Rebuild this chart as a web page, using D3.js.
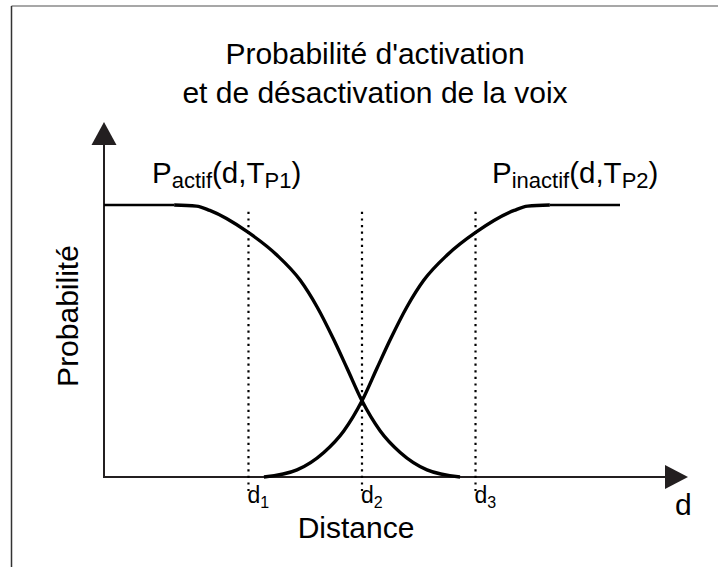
<!DOCTYPE html>
<html>
<head>
<meta charset="utf-8">
<script src="https://cdn.jsdelivr.net/npm/d3@7"></script>
<style>
  body { margin: 0; background: #fff; }
  text { font-family: "Liberation Sans", Arial, sans-serif; fill: #000; }
</style>
</head>
<body>
<script>

// values (distance in arbitrary units 0..10, probability 0..1)
var actifDist   = [1.36, 1.79, 2.05, 2.79, 3.35, 3.80, 4.13, 4.44, 4.71, 5.0, 5.35, 5.74, 6.26, 6.9];
var actifProb   = [1.0, 0.996, 0.98, 0.90, 0.816, 0.724, 0.625, 0.51, 0.40, 0.28, 0.17, 0.09, 0.026, 0];
var actifFlat   = [0, 1.36];

var inactifDist = [3.1, 3.74, 4.26, 4.65, 5.0, 5.29, 5.56, 5.87, 6.2, 6.65, 7.21, 7.95, 8.21, 8.64];
var inactifProb = [0, 0.026, 0.09, 0.17, 0.28, 0.40, 0.51, 0.625, 0.724, 0.816, 0.90, 0.98, 0.996, 1.0];
var inactifFlat = [8.64, 10];

var markDist  = [2.8, 5, 7.2];
var markNames = ["1", "2", "3"];

var titleLines = ["Probabilité d'activation", "et de désactivation de la voix"];

var width = 718,
    height = 567;

var svg = d3.select("body").append("svg")
    .attr("width", width)
    .attr("height", height);

var x = d3.scaleLinear().domain([0, 10]).range([104, 620]);
var y = d3.scaleLinear().domain([0, 1]).range([477, 205]);

// frame
svg.append("line")
    .attr("x1", 11.5).attr("x2", width).attr("y1", 6).attr("y2", 6)
    .attr("stroke", "#8a8a8a").attr("stroke-width", 1.5);
svg.append("line")
    .attr("x1", 11.5).attr("x2", 11.5).attr("y1", 6).attr("y2", height)
    .attr("stroke", "#333").attr("stroke-width", 1.5);

// title
svg.selectAll(".title")
    .data(titleLines)
  .enter().append("text")
    .attr("class", "title")
    .attr("x", 375)
    .attr("y", function(d, i) { return 64 + i * 39; })
    .attr("text-anchor", "middle")
    .style("font-size", "30px")
    .text(function(d) { return d; });

// axes with arrows
var axisColor = "#231f20";
var x0 = x(0), y0 = y(0), xEnd = x.range()[1] + 68, yTop = y(1) - 83;

svg.append("line")
    .attr("x1", x0).attr("x2", xEnd - 20).attr("y1", y0).attr("y2", y0)
    .attr("stroke", axisColor).attr("stroke-width", 2);
svg.append("path")
    .attr("d", "M" + xEnd + "," + y0 + "L" + (xEnd - 23) + "," + (y0 - 12) + "L" + (xEnd - 23) + "," + (y0 + 12) + "Z")
    .attr("fill", axisColor);

svg.append("line")
    .attr("x1", x0).attr("x2", x0).attr("y1", y0 + 1).attr("y2", yTop + 20)
    .attr("stroke", axisColor).attr("stroke-width", 2);
svg.append("path")
    .attr("d", "M" + x0 + "," + yTop + "L" + (x0 - 12.5) + "," + (yTop + 23) + "L" + (x0 + 12.5) + "," + (yTop + 23) + "Z")
    .attr("fill", axisColor);

// dotted markers d1, d2, d3
svg.selectAll(".mark")
    .data(markDist)
  .enter().append("line")
    .attr("class", "mark")
    .attr("x1", function(d) { return x(d); })
    .attr("x2", function(d) { return x(d); })
    .attr("y1", y(0.975))
    .attr("y2", y(0) + 14)
    .attr("stroke", "#000")
    .attr("stroke-width", 2.2)
    .attr("stroke-dasharray", "2.2,4.4");

var dLab = svg.selectAll(".dlab")
    .data(markDist)
  .enter().append("text")
    .attr("class", "dlab")
    .attr("x", function(d) { return x(d) - 1; })
    .attr("y", y(0) + 26);
dLab.append("tspan")
    .style("font-size", "23px")
    .text("d");
dLab.append("tspan")
    .attr("dy", 5)
    .style("font-size", "16px")
    .text(function(d, i) { return markNames[i]; });

// curves
var line = d3.line()
    .x(function(d) { return x(d[0]); })
    .y(function(d) { return y(d[1]); })
    .curve(d3.curveMonotoneX);

svg.append("path")
    .datum(actifFlat.map(function(d) { return [d, 1]; }))
    .attr("fill", "none").attr("stroke", "#000").attr("stroke-width", 2.4)
    .attr("d", line);
svg.append("path")
    .datum(inactifFlat.map(function(d) { return [d, 1]; }))
    .attr("fill", "none").attr("stroke", "#000").attr("stroke-width", 2.4)
    .attr("d", line);

svg.append("path")
    .datum(d3.zip(actifDist, actifProb))
    .attr("fill", "none").attr("stroke", "#000").attr("stroke-width", 3.4)
    .attr("d", line);
svg.append("path")
    .datum(d3.zip(inactifDist, inactifProb))
    .attr("fill", "none").attr("stroke", "#000").attr("stroke-width", 3.4)
    .attr("d", line);

// curve labels
function curveLabel(px, sub, tsub) {
  var t = svg.append("text").attr("x", px).attr("y", 183);
  t.append("tspan").style("font-size", "29.5px").text("P");
  t.append("tspan").attr("dy", 5).style("font-size", "22px").text(sub);
  t.append("tspan").attr("dy", -5).style("font-size", "29.5px").text("(d,T");
  t.append("tspan").attr("dy", 5).style("font-size", "22px").text(tsub);
  t.append("tspan").attr("dy", -5).style("font-size", "29.5px").text(")");
}
curveLabel(152, "actif", "P1");
curveLabel(492, "inactif", "P2");

// axis titles
svg.append("text")
    .attr("transform", "translate(78," + 316 + ") rotate(-90)")
    .attr("text-anchor", "middle")
    .style("font-size", "30px")
    .text("Probabilité");

svg.append("text")
    .attr("x", 356)
    .attr("y", 538)
    .attr("text-anchor", "middle")
    .style("font-size", "30px")
    .text("Distance");

svg.append("text")
    .attr("x", xEnd - 13)
    .attr("y", 515)
    .style("font-size", "30px")
    .text("d");

</script>
</body>
</html>
